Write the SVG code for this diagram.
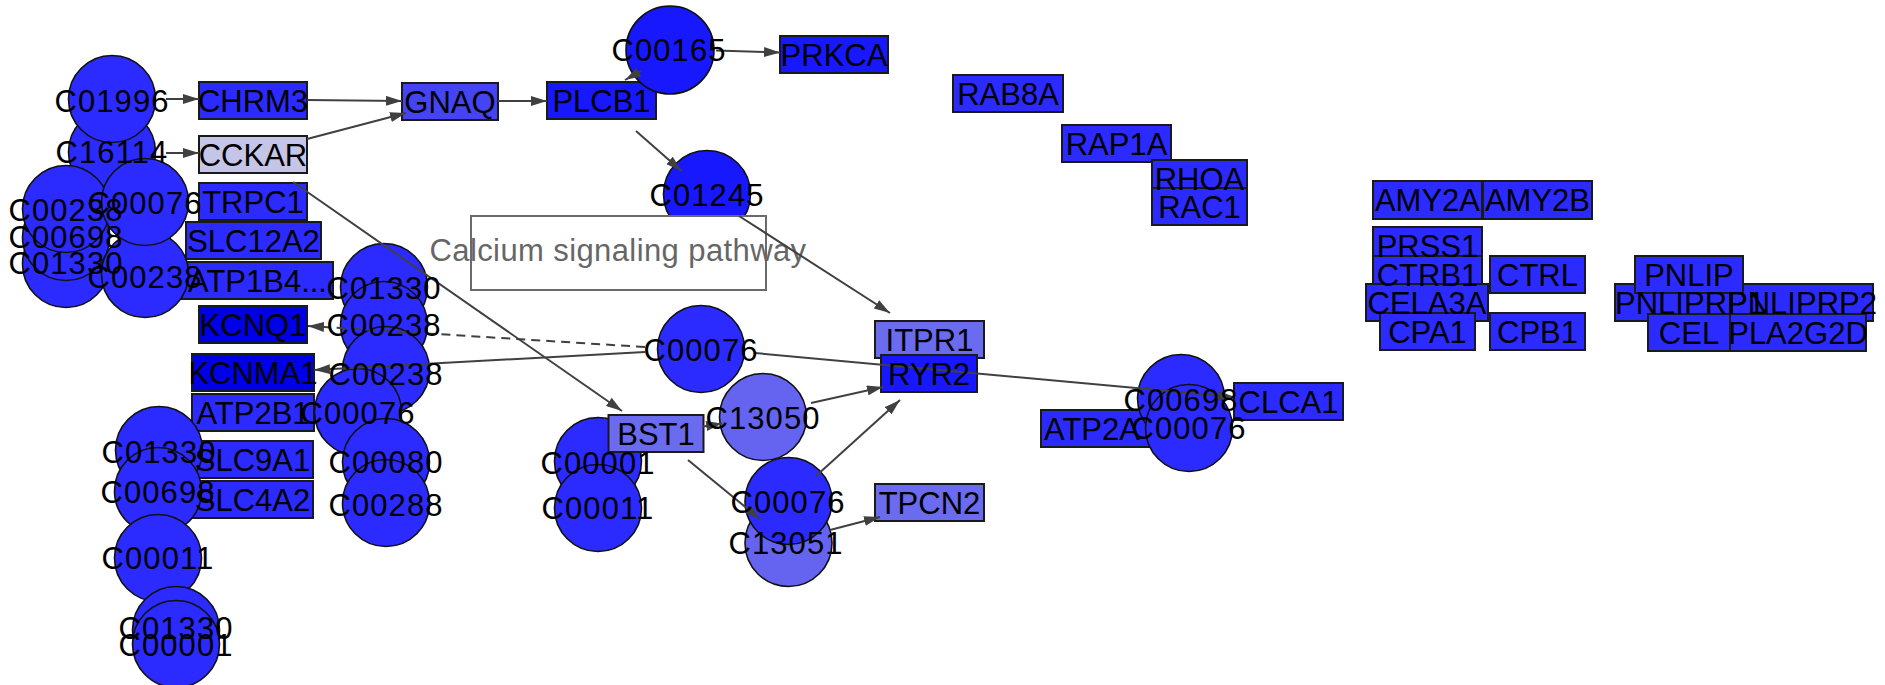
<svg xmlns="http://www.w3.org/2000/svg" width="1885" height="685" viewBox="0 0 1885 685">
<style>
.gene{stroke:#1a1a1a;stroke-width:2}
.cpd{stroke:#111;stroke-width:1.6}
.f0{fill:#2b2bff}
.fk{fill:#0000e6}
.fl{fill:#6b6bf0}
.fc{fill:#6464f0}
.fd{fill:#1818ff}
.fg{fill:#4444f2}
.fp{fill:#c5c5e8}
.lbl{font-family:"Liberation Sans",Arial,sans-serif;font-size:31px;fill:#000;text-anchor:middle}
.cl{letter-spacing:1.1px}
.title{font-family:"Liberation Sans",Arial,sans-serif;font-size:31px;fill:#666;text-anchor:middle;letter-spacing:0.4px}
.edge{stroke:#404040;stroke-width:2;fill:none}
.dash{stroke-dasharray:9 6}
</style>
<defs>
<marker id="arr" markerUnits="userSpaceOnUse" markerWidth="16" markerHeight="10" refX="16" refY="5" orient="auto">
<path d="M0,0 L16,5 L0,10 z" fill="#404040"/>
</marker>
</defs>
<rect width="1885" height="685" fill="#fff"/>
<g id="nodes">
<g id="n-CHRM3"><rect class="gene f0" x="199" y="82" width="108" height="37"/></g>
<g id="n-CCKAR"><rect class="gene fp" x="199" y="136" width="108" height="37"/></g>
<g id="n-GNAQ"><rect class="gene fg" x="402" y="83" width="96" height="37"/></g>
<g id="n-PLCB1"><rect class="gene fd" x="547" y="82" width="109" height="37"/></g>
<g id="n-PRKCA"><rect class="gene fd" x="780" y="36" width="108" height="37"/></g>
<g id="n-TRPC1"><rect class="gene f0" x="199" y="183" width="108" height="37"/></g>
<g id="n-SLC12A2"><rect class="gene f0" x="186" y="222" width="135" height="37"/></g>
<g id="n-ATP1B4"><rect class="gene f0" x="182" y="262" width="151" height="37"/></g>
<g id="n-KCNQ1"><rect class="gene fk" x="199" y="306" width="108" height="37"/></g>
<g id="n-KCNMA1"><rect class="gene fk" x="192" y="354" width="122" height="37"/></g>
<g id="n-ATP2B1"><rect class="gene f0" x="192" y="394" width="122" height="37"/></g>
<g id="n-SLC9A1"><rect class="gene f0" x="192" y="441" width="121" height="37"/></g>
<g id="n-SLC4A2"><rect class="gene f0" x="192" y="481" width="121" height="37"/></g>
<g id="n-ITPR1"><rect class="gene fl" x="875" y="321" width="109" height="37"/></g>
<g id="n-RYR2"><rect class="gene fd" x="881" y="355" width="96" height="37"/></g>
<g id="n-TPCN2"><rect class="gene fl" x="875" y="484" width="109" height="37"/></g>
<g id="n-RAB8A"><rect class="gene f0" x="953" y="75" width="110" height="37"/></g>
<g id="n-RAP1A"><rect class="gene f0" x="1062" y="125" width="109" height="37"/></g>
<g id="n-RHOA"><rect class="gene f0" x="1152" y="160" width="95" height="37"/></g>
<g id="n-RAC1"><rect class="gene f0" x="1152" y="188" width="95" height="37"/></g>
<g id="n-ATP2A"><rect class="gene f0" x="1041" y="410" width="112" height="37"/></g>
<g id="n-CLCA1"><rect class="gene f0" x="1234" y="383" width="109" height="37"/></g>
<g id="n-AMY2A"><rect class="gene f0" x="1373" y="181" width="109" height="38"/></g>
<g id="n-AMY2B"><rect class="gene f0" x="1483" y="181" width="109" height="38"/></g>
<g id="n-PRSS1"><rect class="gene f0" x="1373" y="227" width="109" height="37"/></g>
<g id="n-CTRB1"><rect class="gene f0" x="1373" y="256" width="109" height="37"/></g>
<g id="n-CTRL"><rect class="gene f0" x="1490" y="256" width="95" height="37"/></g>
<g id="n-CELA3A"><rect class="gene f0" x="1366" y="284" width="122" height="37"/></g>
<g id="n-CPA1"><rect class="gene f0" x="1380" y="313" width="95" height="37"/></g>
<g id="n-CPB1"><rect class="gene f0" x="1490" y="313" width="95" height="37"/></g>
<g id="n-PNLIPRP1"><rect class="gene f0" x="1615" y="284" width="150" height="37"/></g>
<g id="n-PNLIPRP2"><rect class="gene f0" x="1732" y="284" width="141" height="37"/></g>
<g id="n-PNLIP"><rect class="gene f0" x="1635" y="256" width="108" height="37"/></g>
<g id="n-CEL"><rect class="gene f0" x="1648" y="314" width="82" height="37"/></g>
<g id="n-PLA2G2D"><rect class="gene f0" x="1730" y="314" width="136" height="37"/></g>

<g id="n-C16114"><circle class="cpd f0" cx="112" cy="152" r="43.5"/></g>
<g id="n-C01996"><circle class="cpd f0" cx="112" cy="99" r="43.5"/></g>
<g id="n-C01330a"><circle class="cpd f0" cx="66" cy="264" r="43.5"/></g>
<g id="n-C00698a"><circle class="cpd f0" cx="66" cy="237" r="43.5"/></g>
<g id="n-C00238a"><circle class="cpd f0" cx="66" cy="209" r="43.5"/></g>
<g id="n-C00238b"><circle class="cpd f0" cx="145" cy="274" r="43.5"/></g>
<g id="n-C00076a"><circle class="cpd f0" cx="145" cy="202" r="43.5"/></g>
<g id="n-C01330b"><circle class="cpd f0" cx="384" cy="287" r="43.5"/></g>
<g id="n-C00238c"><circle class="cpd f0" cx="384" cy="325" r="43.5"/></g>
<g id="n-C00238d"><circle class="cpd f0" cx="386" cy="370" r="43.5"/></g>
<g id="n-C00076b"><circle class="cpd f0" cx="358" cy="412" r="43.5"/></g>
<g id="n-C00080"><circle class="cpd f0" cx="386" cy="462" r="43.5"/></g>
<g id="n-C00288"><circle class="cpd f0" cx="386" cy="503" r="43.5"/></g>
<g id="n-C01330c"><circle class="cpd f0" cx="159" cy="450" r="43.5"/></g>
<g id="n-C00698b"><circle class="cpd f0" cx="158" cy="491" r="43.5"/></g>
<g id="n-C00011a"><circle class="cpd f0" cx="158" cy="558" r="43.5"/></g>
<g id="n-C01330d"><circle class="cpd f0" cx="176" cy="630" r="43.5"/></g>
<g id="n-C00001a"><circle class="cpd f0" cx="176" cy="644" r="43.5"/></g>
<g id="n-C00165"><circle class="cpd fd" cx="670" cy="50" r="44"/></g>
<g id="n-C01245"><circle class="cpd fd" cx="707" cy="194" r="43.5"/></g>
<g id="n-C00076c"><circle class="cpd f0" cx="701" cy="349" r="43.5"/></g>
<g id="n-C13050"><circle class="cpd fc" cx="763" cy="417" r="43.5"/></g>
<g id="n-C00001b"><circle class="cpd f0" cx="598" cy="461" r="43.5"/></g>
<g id="n-C00011b"><circle class="cpd f0" cx="598" cy="508" r="43.5"/></g>
<g id="n-BST1"><rect class="gene fl" x="608.5" y="415" width="95" height="37"/></g>
<g id="n-C13051"><circle class="cpd fc" cx="788.5" cy="543" r="43.5"/></g>
<g id="n-C00076d"><circle class="cpd f0" cx="788.5" cy="501" r="43.5"/></g>
<g id="n-C00698c"><circle class="cpd f0" cx="1181" cy="398" r="43.5"/></g>
<g id="n-C00076e"><circle class="cpd f0" cx="1189" cy="428" r="43.5"/></g>
</g>
<g id="group-box">
<rect x="471" y="216" width="295" height="74" fill="#fff" stroke="#6a6a6a" stroke-width="2"/>
<text class="title" x="618" y="261">Calcium signaling pathway</text>
</g>
<g id="connectors">
<path class="edge" marker-end="url(#arr)" d="M166,99 L199,99"/>
<path class="edge" marker-end="url(#arr)" d="M166,153 L199,153"/>
<path class="edge" marker-end="url(#arr)" d="M307,100 L402,101"/>
<path class="edge" marker-end="url(#arr)" d="M307,139 L406,113"/>
<path class="edge" marker-end="url(#arr)" d="M498,101 L547,101"/>
<path class="edge" marker-end="url(#arr)" d="M641,71 L625,80"/>
<path class="edge" marker-end="url(#arr)" d="M716,50.5 L780,52.5"/>
<path class="edge" marker-end="url(#arr)" d="M636,131 L681.5,171"/>
<path class="edge" marker-end="url(#arr)" d="M739,216 L890,313"/>
<path class="edge" marker-end="url(#arr)" d="M293,182 L622,411"/>
<path class="edge dash" marker-end="url(#arr)" d="M645,347 L308,326"/>
<path class="edge" marker-end="url(#arr)" d="M645,352 L314,370"/>
<path class="edge" marker-end="url(#arr)" d="M755,353 L1234,397"/>
<path class="edge" marker-end="url(#arr)" d="M703,426.5 L722,423.5"/>
<path class="edge" marker-end="url(#arr)" d="M811,403 L883,387"/>
<path class="edge" marker-end="url(#arr)" d="M816,476 L900,400"/>
<path class="edge" marker-end="url(#arr)" d="M688,460 L760,519"/>
<path class="edge" marker-end="url(#arr)" d="M830,530 L880,517"/>
</g>
<g id="labels" class="lbl">
<text class="lbl" x="253" y="111.5">CHRM3</text>
<text class="lbl" x="253" y="165.5">CCKAR</text>
<text class="lbl" x="450" y="112.5">GNAQ</text>
<text class="lbl" x="601.5" y="111.5">PLCB1</text>
<text class="lbl" x="834" y="65.5">PRKCA</text>
<text class="lbl" x="253" y="212.5">TRPC1</text>
<text class="lbl" x="253.5" y="251.5">SLC12A2</text>
<text class="lbl" x="257.5" y="291.5">ATP1B4...</text>
<text class="lbl" x="253" y="335.5">KCNQ1</text>
<text class="lbl" x="253" y="383.5">KCNMA1</text>
<text class="lbl" x="253" y="423.5">ATP2B1</text>
<text class="lbl" x="252.5" y="470.5">SLC9A1</text>
<text class="lbl" x="252.5" y="510.5">SLC4A2</text>
<text class="lbl" x="929.5" y="350.5">ITPR1</text>
<text class="lbl" x="929" y="384.5">RYR2</text>
<text class="lbl" x="656" y="444.5">BST1</text>
<text class="lbl" x="929.5" y="513.5">TPCN2</text>
<text class="lbl" x="1008" y="104.5">RAB8A</text>
<text class="lbl" x="1116.5" y="154.5">RAP1A</text>
<text class="lbl" x="1199.5" y="189.5">RHOA</text>
<text class="lbl" x="1199.5" y="217.5">RAC1</text>
<text class="lbl" x="1092" y="439.5">ATP2A</text>
<text class="lbl" x="1288.5" y="412.5">CLCA1</text>
<text class="lbl" x="1427.5" y="211">AMY2A</text>
<text class="lbl" x="1537.5" y="211">AMY2B</text>
<text class="lbl" x="1427.5" y="256.5">PRSS1</text>
<text class="lbl" x="1427.5" y="285.5">CTRB1</text>
<text class="lbl" x="1537.5" y="285.5">CTRL</text>
<text class="lbl" x="1427" y="313.5">CELA3A</text>
<text class="lbl" x="1427.5" y="342.5">CPA1</text>
<text class="lbl" x="1537.5" y="342.5">CPB1</text>
<text class="lbl" x="1689" y="285.5">PNLIP</text>
<text class="lbl" x="1690" y="313.5">PNLIPRP1</text>
<text class="lbl" x="1802" y="313.5">PNLIPRP2</text>
<text class="lbl" x="1689" y="343.5">CEL</text>
<text class="lbl" x="1798" y="343.5">PLA2G2D</text>
<text class="lbl cl" x="112" y="111.5">C01996</text>
<text class="lbl cl" x="112" y="163">C16114</text>
<text class="lbl cl" x="145" y="214">C00076</text>
<text class="lbl cl" x="66" y="221">C00238</text>
<text class="lbl cl" x="66" y="248">C00698</text>
<text class="lbl cl" x="66" y="274">C01330</text>
<text class="lbl cl" x="145" y="288">C00238</text>
<text class="lbl cl" x="384" y="299">C01330</text>
<text class="lbl cl" x="384" y="336">C00238</text>
<text class="lbl cl" x="386" y="385">C00238</text>
<text class="lbl cl" x="358" y="424">C00076</text>
<text class="lbl cl" x="386" y="473">C00080</text>
<text class="lbl cl" x="386" y="516">C00288</text>
<text class="lbl cl" x="159" y="463">C01330</text>
<text class="lbl cl" x="158" y="503">C00698</text>
<text class="lbl cl" x="158" y="569">C00011</text>
<text class="lbl cl" x="176" y="639">C01330</text>
<text class="lbl cl" x="176" y="656">C00001</text>
<text class="lbl cl" x="669" y="61">C00165</text>
<text class="lbl cl" x="707" y="206">C01245</text>
<text class="lbl cl" x="701" y="361">C00076</text>
<text class="lbl cl" x="763" y="429">C13050</text>
<text class="lbl cl" x="598" y="474">C00001</text>
<text class="lbl cl" x="598" y="519">C00011</text>
<text class="lbl cl" x="788" y="513">C00076</text>
<text class="lbl cl" x="786" y="554">C13051</text>
<text class="lbl cl" x="1181" y="411">C00698</text>
<text class="lbl cl" x="1189" y="439">C00076</text>
</g>
</svg>
